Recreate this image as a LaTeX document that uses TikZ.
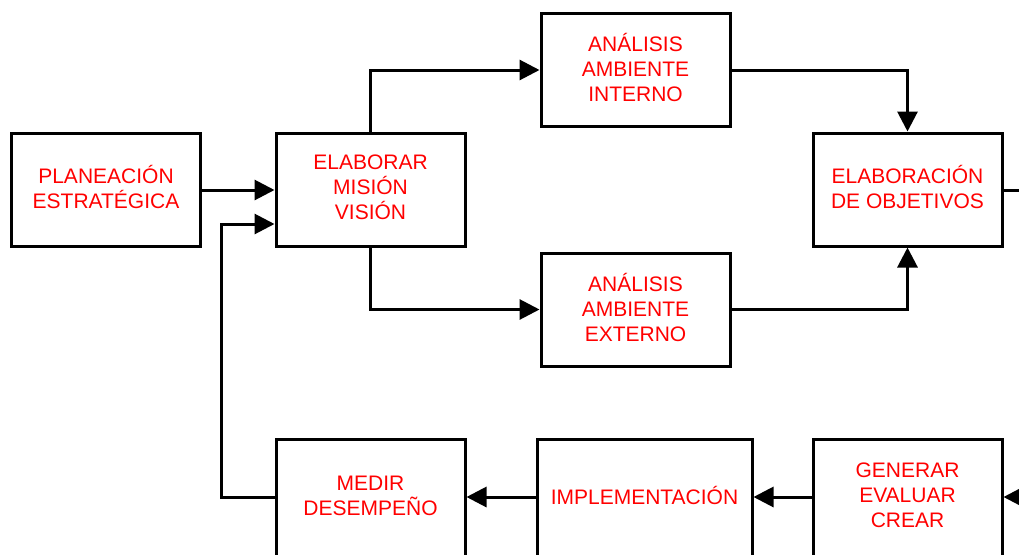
\documentclass[tikz,border=0pt]{standalone}
\usepackage{fontspec}
\setmainfont{Liberation Sans}
\usetikzlibrary{arrows.meta}
\definecolor{txtred}{RGB}{255,0,0}
\tikzset{
  box/.style={draw=black, line width=3pt, fill=white, minimum width=189pt, minimum height=113pt,
    inner sep=0pt},
  boxtext/.style={label={[align=center, text=txtred, inner sep=0pt, yshift=2.5pt,
    font=\fontsize{21}{25}\selectfont]center:#1}},
  wide/.style={minimum width=215pt},
  link/.style={draw=black, line width=3pt, -{Triangle[length=20pt,width=20pt]}},
  plain/.style={draw=black, line width=3pt}
}
\begin{document}
\begin{tikzpicture}[x=1pt,y=-1pt]
  \useasboundingbox (0,0) rectangle (1019,554);
  \clip (0,0) rectangle (1019,554);
  % boxes
  \node[box, boxtext={PLANEACIÓN\\ESTRATÉGICA}] (plan) at (106,189.5) {};
  \node[box, boxtext={ELABORAR\\MISIÓN\\VISIÓN}] (mision) at (370.5,189.5) {};
  \node[box, boxtext={ANÁLISIS\\AMBIENTE\\INTERNO}] (interno) at (635.5,70) {};
  \node[box, boxtext={ANÁLISIS\\AMBIENTE\\EXTERNO}] (externo) at (635.5,309.5) {};
  \node[box, boxtext={ELABORACIÓN\\DE OBJETIVOS}] (objetivos) at (907.5,189.5) {};
  \node[box, minimum height=117pt, boxtext={MEDIR\\DESEMPEÑO}] (medir) at (370.5,498) {};
  \node[box, wide, minimum height=117pt, boxtext={IMPLEMENTACIÓN}] (impl) at (644.5,498) {};
  \node[box, minimum height=117pt, boxtext={GENERAR\\EVALUAR\\CREAR}] (generar) at (907.5,498) {};
  % open ends at the right border
  \coordinate (outR) at (1022,190);
  \coordinate (inR) at (1022,497);
  % connectors
  \draw[link] (plan.east |- 0,190) -- (mision.west |- 0,190);
  \draw[link] (mision.north) -- (370.5,70) -- (interno.west);
  \draw[link] (mision.south) -- (370.5,309.5) -- (externo.west);
  \draw[link] (interno.east) -- (907.5,70) -- (objetivos.north);
  \draw[link] (externo.east) -- (907.5,309.5) -- (objetivos.south);
  \draw[plain] (objetivos.east |- 0,190) -- (outR);
  \draw[link] (inR) -- (generar.east |- 0,497);
  \draw[link] (generar.west |- 0,497) -- (impl.east |- 0,497);
  \draw[link] (impl.west |- 0,497) -- (medir.east |- 0,497);
  \draw[link] (medir.west |- 0,497) -- (221,497) -- (221,224) -- (mision.west |- 0,224);
\end{tikzpicture}
\end{document}
